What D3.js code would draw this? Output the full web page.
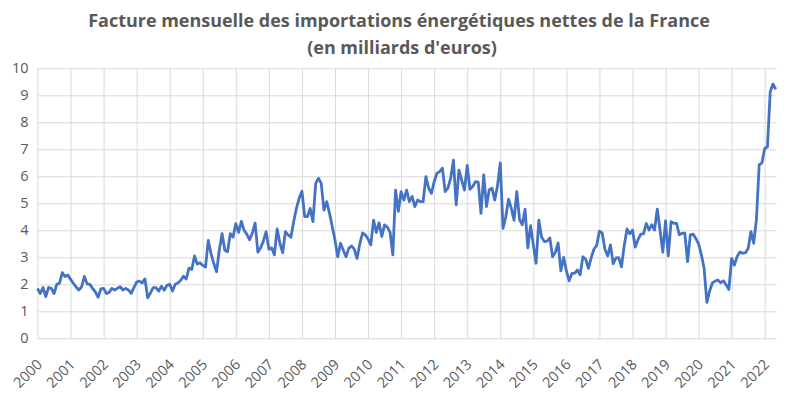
<!DOCTYPE html>
<html>
<head>
<meta charset="utf-8">
<title>Facture énergétique</title>
<script src="https://d3js.org/d3.v7.min.js"></script>
<style>
    body { margin: 0; background: #fff; }
    .grid line { stroke: #d9d9d9; stroke-width: 1px; }
    .grid text { fill: #595959; font-family: "Open Sans", sans-serif; font-size: 14.5px; }
    .line { fill: none; stroke: #4472c4; stroke-width: 2.8px; stroke-linejoin: round; }
</style>
</head>
<body>
<script>
// monthly values, billions of euros, Jan 2000 -> May 2022
var v2000 = [1.85, 1.66, 1.88, 1.54, 1.88, 1.85, 1.66, 2.0, 2.04, 2.43, 2.29, 2.35];
var v2001 = [2.18, 2.04, 1.9, 1.79, 1.9, 2.29, 2.02, 2.0, 1.85, 1.72, 1.52, 1.83];
var v2002 = [1.85, 1.66, 1.7, 1.85, 1.79, 1.85, 1.91, 1.79, 1.85, 1.79, 1.66, 1.88];
var v2003 = [2.08, 2.12, 2.05, 2.2, 1.5, 1.68, 1.88, 1.88, 1.75, 1.93, 1.78, 1.96];
var v2004 = [2.0, 1.75, 2.0, 2.05, 2.15, 2.3, 2.2, 2.6, 2.55, 3.05, 2.75, 2.8];
var v2005 = [2.7, 2.64, 3.63, 3.14, 2.77, 2.46, 3.26, 3.88, 3.26, 3.2, 3.88, 3.75];
var v2006 = [4.25, 3.92, 4.33, 4.0, 3.85, 3.65, 3.9, 4.27, 3.19, 3.35, 3.6, 3.95];
var v2007 = [3.3, 3.35, 3.09, 4.05, 3.52, 3.17, 3.95, 3.83, 3.74, 4.32, 4.81, 5.19];
var v2008 = [5.45, 4.51, 4.51, 4.81, 4.32, 5.74, 5.93, 5.74, 4.75, 5.06, 4.63, 4.14];
var v2009 = [3.64, 3.02, 3.52, 3.27, 3.02, 3.33, 3.42, 3.3, 2.96, 3.5, 3.9, 3.83];
var v2010 = [3.68, 3.46, 4.38, 3.92, 4.28, 3.77, 4.2, 4.12, 3.92, 3.09, 5.49, 4.7];
var v2011 = [5.43, 5.12, 5.49, 5.06, 5.25, 4.88, 5.12, 5.06, 5.06, 5.99, 5.56, 5.37];
var v2012 = [5.8, 6.11, 6.17, 6.3, 5.43, 5.56, 5.93, 6.6, 4.94, 6.23, 5.86, 5.49];
var v2013 = [6.4, 5.52, 5.62, 5.8, 5.78, 4.63, 6.05, 4.88, 5.5, 5.56, 5.12, 5.65];
var v2014 = [6.5, 4.07, 4.5, 5.15, 4.82, 4.37, 5.43, 4.4, 4.2, 4.78, 3.35, 4.17];
var v2015 = [3.46, 2.78, 4.38, 3.75, 3.58, 3.6, 3.72, 3.02, 3.18, 3.53, 2.5, 3.0];
var v2016 = [2.5, 2.13, 2.4, 2.41, 2.53, 2.35, 3.02, 2.93, 2.59, 2.98, 3.3, 3.44];
var v2017 = [3.97, 3.9, 3.3, 3.05, 3.46, 2.76, 2.98, 2.99, 2.65, 3.43, 4.05, 3.87];
var v2018 = [4.01, 3.38, 3.65, 3.86, 3.87, 4.25, 4.01, 4.21, 4.01, 4.78, 4.01, 3.19];
var v2019 = [4.35, 3.05, 4.32, 4.26, 4.26, 3.83, 3.89, 3.89, 2.84, 3.83, 3.86, 3.7];
var v2020 = [3.5, 3.1, 2.59, 1.33, 1.75, 2.05, 2.12, 2.16, 2.06, 2.13, 1.98, 1.81];
var v2021 = [2.96, 2.71, 3.03, 3.2, 3.15, 3.17, 3.33, 3.95, 3.52, 4.4, 6.42, 6.5];
var v2022 = [7.03, 7.09, 9.13, 9.42, 9.22];

var yearLabels = ["2000","2001","2002","2003","2004","2005","2006","2007","2008","2009","2010",
                  "2011","2012","2013","2014","2015","2016","2017","2018","2019","2020","2021","2022"];
var yTicks = [0, 1, 2, 3, 4, 5, 6, 7, 8, 9, 10];

var titleLines = ["Facture mensuelle des importations énergétiques nettes de la France",
                  "(en milliards d'euros)"];

var values = [].concat(v2000, v2001, v2002, v2003, v2004, v2005, v2006, v2007, v2008, v2009, v2010,
                       v2011, v2012, v2013, v2014, v2015, v2016, v2017, v2018, v2019, v2020, v2021, v2022);

var W = 798, H = 394;
var plotL = 37.5, plotR = 776.5, plotT = 68.3, plotB = 338.3;

var svg = d3.select("body").append("svg")
    .attr("width", W)
    .attr("height", H);

svg.append("rect").attr("width", W).attr("height", H).attr("fill", "#fff");

// x: month index, y: value
var x = d3.scaleLinear().domain([0, 264]).range([plotL, 764.7]);
var y = d3.scaleLinear().domain([0, 10]).range([plotB, plotT]);

// horizontal grid + y labels
var yAxis = d3.axisLeft(y).tickValues(yTicks).tickSize(-(plotR - plotL)).tickPadding(9);
svg.append("g")
    .attr("class", "grid")
    .attr("transform", "translate(" + plotL + ",0)")
    .call(yAxis)
    .call(function(g) { g.select(".domain").remove(); });

// vertical grid + year labels
var xAxis = d3.axisBottom(x)
    .tickValues(yearLabels.map(function(d, i) { return i * 12; }))
    .tickFormat(function(d) { return yearLabels[d / 12]; })
    .tickSize(-(plotB - plotT));
var gx = svg.append("g")
    .attr("class", "grid")
    .attr("transform", "translate(0," + plotB + ")")
    .call(xAxis);
gx.select(".domain").remove();
gx.selectAll("text")
    .attr("y", 0).attr("dy", 0)
    .attr("text-anchor", "end")
    .attr("transform", "translate(5,27) rotate(-45)");

// the line
var line = d3.line()
    .x(function(d, i) { return x(i); })
    .y(function(d) { return y(d); });

svg.append("path")
    .attr("class", "line")
    .attr("d", line(values));

// title
var title = svg.append("g")
    .attr("font-family", "'Open Sans', sans-serif")
    .attr("font-weight", 700)
    .attr("fill", "#595959")
    .attr("text-anchor", "middle");
var t1 = title.append("text").attr("x", 399).attr("y", 27).attr("font-size", 18).text(titleLines[0]);
var fs = 18 * 622 / t1.node().getComputedTextLength();
t1.attr("font-size", fs);
title.append("text").attr("x", 402).attr("y", 54).attr("font-size", fs).text(titleLines[1]);
</script>
</body>
</html>
